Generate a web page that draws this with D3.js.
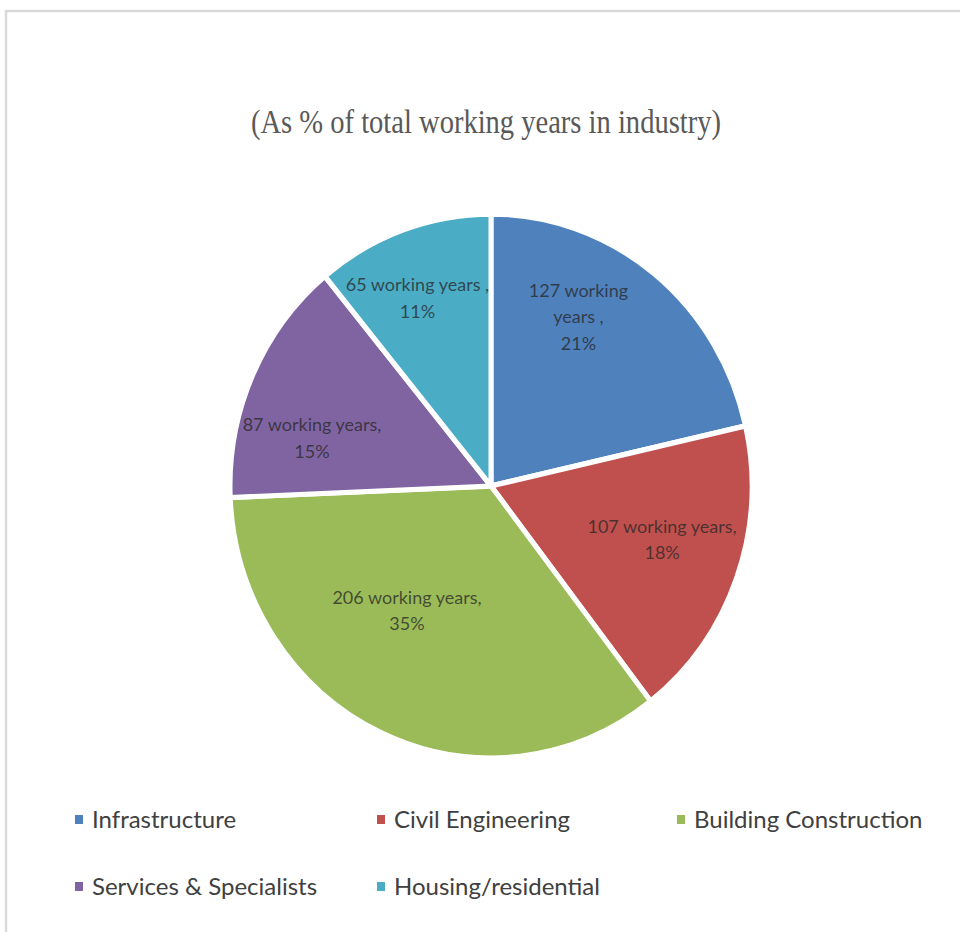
<!DOCTYPE html>
<html>
<head>
<meta charset="utf-8">
<script src="https://cdn.jsdelivr.net/npm/d3@7"></script>
<style>
  html, body { margin: 0; padding: 0; background: #fff; }
  svg { display: block; }
</style>
</head>
<body>
<svg id="chart" width="960" height="932"></svg>
<script>
// ---- data ----
const categories = ["Infrastructure", "Civil Engineering", "Building Construction", "Services & Specialists", "Housing/residential"];
const workingYears = [127, 107, 206, 87, 65];
const percentLabels = ["21%", "18%", "35%", "15%", "11%"];
const labelLines = [
  ["127 working", "years ,", "21%"],
  ["107 working years,", "18%"],
  ["206 working years,", "35%"],
  ["87 working years,", "15%"],
  ["65 working years ,", "11%"]
];
const colors = ["#4F81BD", "#C0504D", "#9BBB59", "#8064A2", "#4BACC6"];
const titleText = "(As % of total working years in industry)";

// ---- layout ----
const W = 960, H = 932;
const cx = 491, cy = 486, R = 261, yStretch = 1.042;
const labelNudge = [[-28, -18], [-3, -11], [-6, -50], [-10, 31], [-11, -6]];

const svg = d3.select("#chart");

// frame
svg.append("rect")
  .attr("x", 6).attr("y", 11)
  .attr("width", W + 20).attr("height", H + 20)
  .attr("fill", "none").attr("stroke", "#d9d9d9").attr("stroke-width", 2.5);

// title
svg.append("text")
  .attr("x", 486).attr("y", 133)
  .attr("text-anchor", "middle")
  .attr("font-family", "'Liberation Serif', 'Times New Roman', serif")
  .attr("font-size", 33)
  .attr("fill", "#595959")
  .attr("textLength", 470)
  .attr("lengthAdjust", "spacingAndGlyphs")
  .text(titleText);

// pie
const pie = d3.pie().sort(null).value(d => d)(workingYears);
const arc = d3.arc().innerRadius(0).outerRadius(R);
const labelArc = d3.arc().innerRadius(185).outerRadius(185);

const g = svg.append("g")
  .attr("transform", `translate(${cx},${cy}) scale(1,${yStretch})`);

g.selectAll("path.slice")
  .data(pie)
  .join("path")
  .attr("class", "slice")
  .attr("d", arc)
  .attr("fill", (d, i) => colors[i])
  .attr("stroke", "#fff")
  .attr("stroke-width", 5)
  .attr("stroke-linejoin", "miter");

// labels
const lineH = 26.5;
const lbl = svg.append("g");
pie.forEach((d, i) => {
  const c = labelArc.centroid(d);
  const x = cx + c[0] + labelNudge[i][0];
  const y = cy + c[1] * yStretch + labelNudge[i][1];
  const lines = labelLines[i];
  const t = lbl.append("text")
    .attr("text-anchor", "middle")
    .attr("font-family", "Lato, 'Open Sans', sans-serif")
    .attr("font-size", 18)
    .attr("fill", "#262626")
    .attr("fill-opacity", 0.75);
  const y0 = y - (lines.length - 1) * lineH / 2 + 6;
  lines.forEach((ln, k) => {
    t.append("tspan").attr("x", x).attr("y", y0 + k * lineH).text(ln);
  });
});

// legend
const legendX = [75, 377, 677];
const legendY = [828, 895];
const leg = svg.append("g");
categories.forEach((name, i) => {
  const col = i % 3, row = Math.floor(i / 3);
  const item = leg.append("g")
    .attr("transform", `translate(${legendX[col]},${legendY[row]})`);
  item.append("rect")
    .attr("x", 0).attr("y", -13).attr("width", 8).attr("height", 9)
    .attr("fill", colors[i]);
  item.append("text")
    .attr("x", 17).attr("y", 0)
    .attr("font-family", "Lato, 'Open Sans', sans-serif")
    .attr("font-size", 24)
    .attr("fill", "#404040")
    .text(name);
});
</script>
</body>
</html>
